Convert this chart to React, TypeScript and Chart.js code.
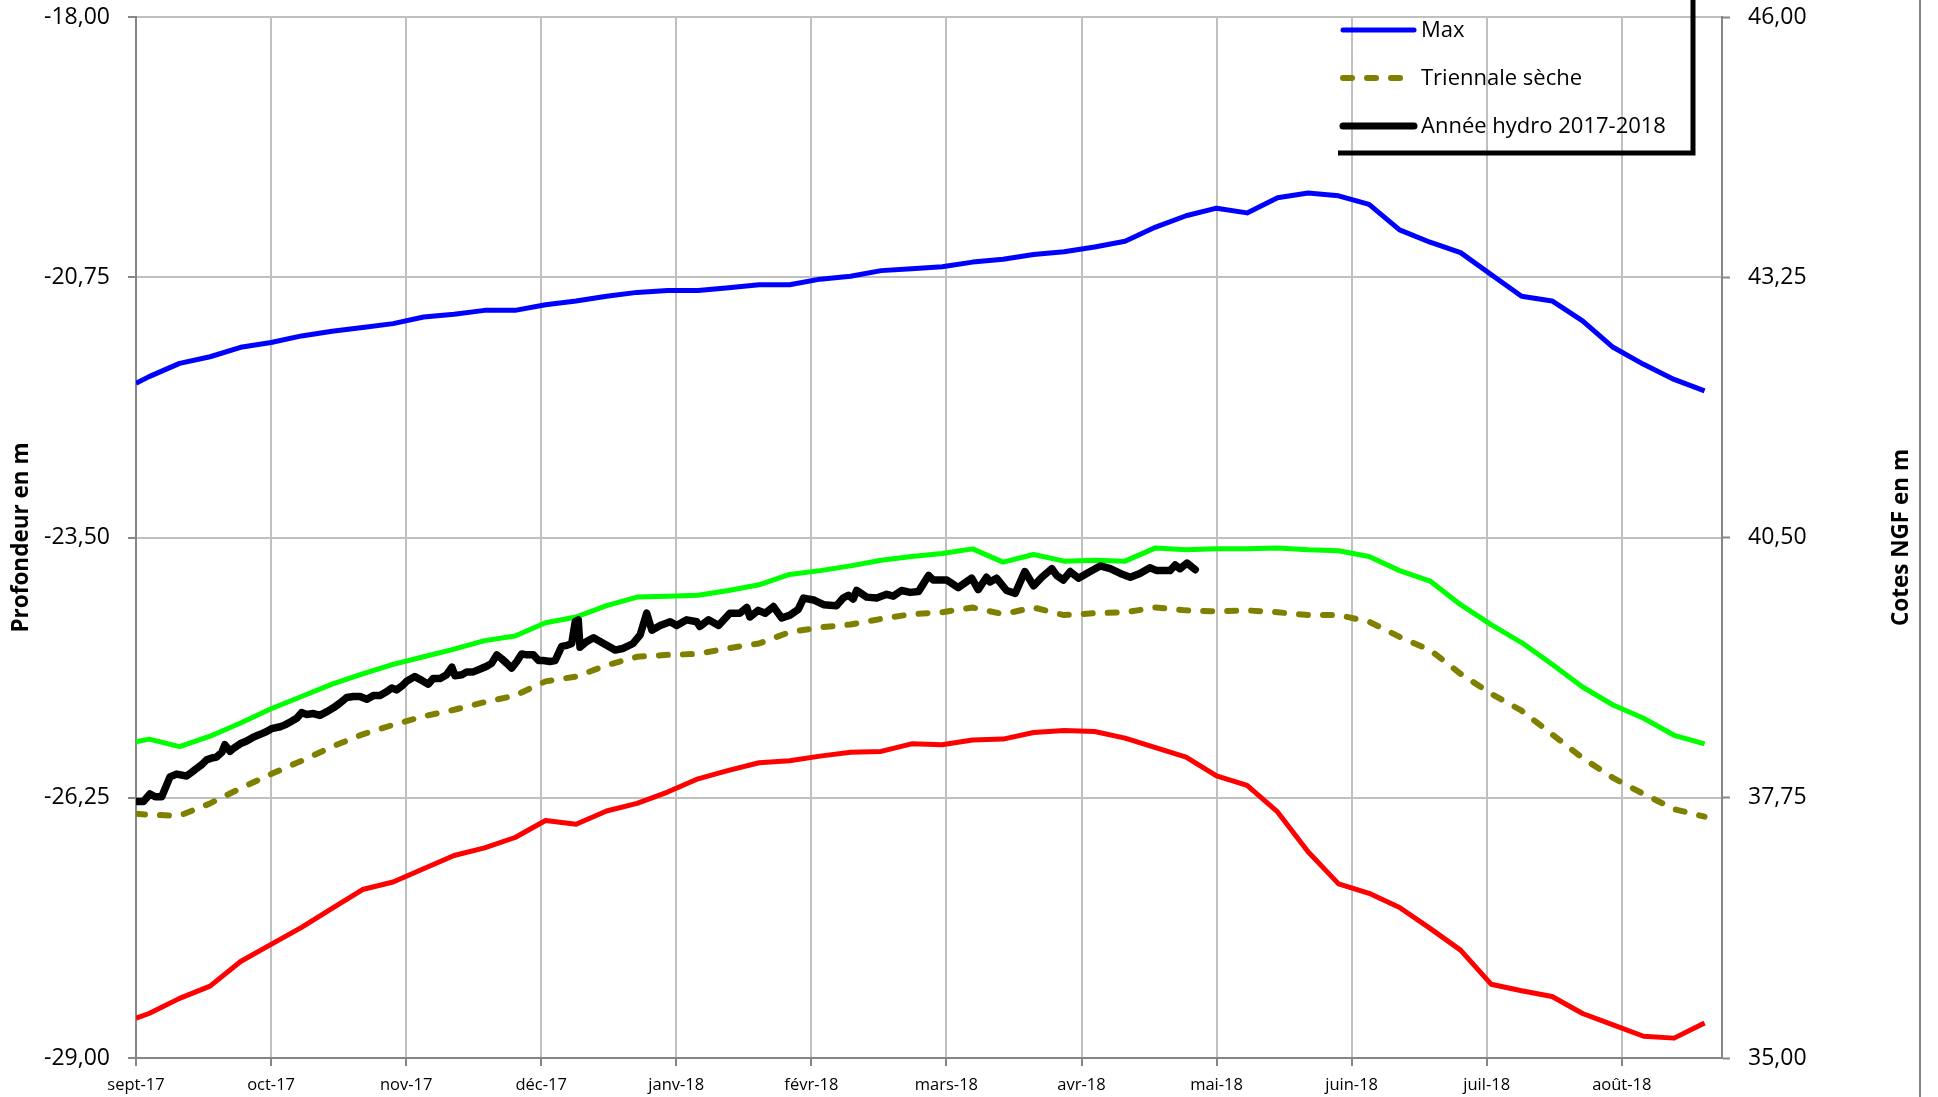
import React, { useEffect, useRef } from 'react';
import { Chart, registerables } from 'chart.js';

Chart.register(...registerables);

// ---- Axis labels ----
const MONTH_LABELS = ['sept-17', 'oct-17', 'nov-17', 'déc-17', 'janv-18', 'févr-18', 'mars-18', 'avr-18', 'mai-18', 'juin-18', 'juil-18', 'août-18'];
const TICK_INTERVAL_DAYS = 31; // one label every 31 daily categories
const LAST_DAY = 364;
const LEFT_TITLE = 'Profondeur en m';
const RIGHT_TITLE = 'Cotes NGF en m';
const NGF_OFFSET = 64; // cote NGF = profondeur + 64

// ---- Weekly reference series (day index from 1 Sept 2017) ----
const WEEK_DAYS = [0, 3, 10, 17, 24, 31, 38, 45, 52, 59, 66, 73, 80, 87, 94, 101, 108, 115, 122, 129, 136, 143, 150, 157, 164, 171, 178, 185, 192, 199, 206, 213, 220, 227, 234, 241, 248, 255, 262, 269, 276, 283, 290, 297, 304, 311, 318, 325, 332, 339, 346, 353, 360];

const MAX_VALUES = [-21.87, -21.80, -21.66, -21.59, -21.49, -21.44, -21.37, -21.32, -21.28, -21.24, -21.17, -21.14, -21.10, -21.10, -21.04, -21.00, -20.95, -20.91, -20.89, -20.89, -20.86, -20.83, -20.83, -20.77, -20.74, -20.68, -20.66, -20.64, -20.59, -20.56, -20.51, -20.48, -20.43, -20.37, -20.22, -20.10, -20.02, -20.07, -19.91, -19.86, -19.89, -19.98, -20.25, -20.38, -20.49, -20.72, -20.95, -21.00, -21.21, -21.49, -21.67, -21.83, -21.95];

const GREEN_VALUES = [-25.66, -25.63, -25.71, -25.60, -25.46, -25.31, -25.18, -25.05, -24.94, -24.84, -24.76, -24.68, -24.59, -24.54, -24.40, -24.34, -24.22, -24.13, -24.12, -24.11, -24.06, -24.00, -23.89, -23.85, -23.80, -23.74, -23.70, -23.67, -23.62, -23.76, -23.68, -23.75, -23.74, -23.75, -23.61, -23.63, -23.62, -23.62, -23.61, -23.63, -23.64, -23.70, -23.85, -23.96, -24.21, -24.42, -24.61, -24.84, -25.08, -25.27, -25.41, -25.59, -25.68];

const TRIENNALE_VALUES = [-26.42, -26.43, -26.44, -26.31, -26.15, -26.00, -25.86, -25.71, -25.58, -25.48, -25.39, -25.32, -25.24, -25.17, -25.02, -24.97, -24.85, -24.76, -24.74, -24.73, -24.67, -24.62, -24.50, -24.45, -24.42, -24.36, -24.31, -24.29, -24.24, -24.31, -24.24, -24.32, -24.30, -24.29, -24.24, -24.27, -24.28, -24.27, -24.29, -24.32, -24.32, -24.39, -24.55, -24.69, -24.94, -25.15, -25.33, -25.58, -25.83, -26.04, -26.21, -26.37, -26.45];

const MIN_VALUES = [-28.58, -28.53, -28.37, -28.24, -27.98, -27.80, -27.62, -27.42, -27.22, -27.14, -27.00, -26.86, -26.78, -26.67, -26.49, -26.53, -26.39, -26.31, -26.19, -26.05, -25.96, -25.88, -25.86, -25.81, -25.77, -25.76, -25.68, -25.69, -25.64, -25.63, -25.56, -25.54, -25.55, -25.62, -25.72, -25.82, -26.02, -26.12, -26.40, -26.82, -27.16, -27.26, -27.41, -27.63, -27.86, -28.22, -28.29, -28.35, -28.53, -28.65, -28.77, -28.79, -28.63];

// ---- Année hydro 2017-2018 (daily readings) ----
const HYDRO_DAYS = [0, 1.7, 3.2, 4.4, 5.9, 7.8, 9.3, 11.6, 12.8, 13.9, 15.1, 16.2, 17.4, 18.5, 19.7, 20.4, 21.6, 22.3, 23.9, 25.4, 26.9, 28.5, 30.0, 31.1, 33.1, 34.2, 35.4, 36.9, 38.0, 39.2, 40.7, 42.2, 43.8, 45.3, 46.8, 48.4, 49.9, 51.4, 53.0, 54.5, 56.0, 57.5, 58.7, 59.8, 61.0, 62.1, 64.0, 65.6, 67.1, 68.2, 69.8, 71.3, 72.5, 73.2, 74.8, 75.9, 77.4, 79.0, 80.5, 81.6, 82.8, 83.9, 85.1, 86.2, 87.4, 88.5, 89.7, 91.2, 92.4, 93.5, 95.0, 96.2, 97.7, 98.9, 100.0, 100.8, 101.5, 101.9, 103.4, 105.0, 106.5, 110.0, 111.9, 114.1, 115.7, 117.2, 118.4, 120.3, 122.6, 124.1, 126.4, 128.7, 129.4, 131.4, 133.7, 136.3, 138.6, 140.2, 140.9, 142.8, 144.4, 146.3, 148.2, 150.1, 152.0, 153.2, 155.5, 157.8, 160.8, 162.3, 163.5, 164.6, 165.4, 167.7, 170.0, 172.3, 173.8, 175.7, 177.7, 179.6, 180.7, 181.9, 183.0, 186.1, 188.7, 191.8, 193.3, 195.2, 196.0, 197.5, 199.8, 201.8, 204.0, 206.0, 207.9, 210.2, 211.3, 212.8, 214.4, 216.3, 218.2, 219.0, 221.3, 223.6, 225.9, 228.2, 230.4, 232.7, 234.3, 237.3, 238.5, 239.6, 241.2, 243.1];

const HYDRO_VALUES = [-26.29, -26.29, -26.21, -26.24, -26.24, -26.03, -26.00, -26.02, -25.98, -25.94, -25.90, -25.85, -25.83, -25.82, -25.77, -25.69, -25.76, -25.73, -25.68, -25.65, -25.61, -25.58, -25.55, -25.52, -25.50, -25.48, -25.45, -25.41, -25.35, -25.37, -25.36, -25.38, -25.34, -25.30, -25.25, -25.19, -25.18, -25.18, -25.21, -25.17, -25.17, -25.13, -25.09, -25.11, -25.07, -25.02, -24.97, -25.01, -25.05, -24.99, -24.99, -24.95, -24.87, -24.96, -24.95, -24.92, -24.92, -24.89, -24.86, -24.83, -24.74, -24.78, -24.83, -24.88, -24.81, -24.73, -24.74, -24.74, -24.80, -24.80, -24.81, -24.80, -24.65, -24.64, -24.62, -24.39, -24.37, -24.66, -24.60, -24.56, -24.60, -24.69, -24.67, -24.62, -24.53, -24.30, -24.48, -24.43, -24.39, -24.43, -24.37, -24.39, -24.44, -24.37, -24.43, -24.30, -24.30, -24.24, -24.34, -24.27, -24.30, -24.23, -24.35, -24.32, -24.26, -24.14, -24.16, -24.21, -24.22, -24.14, -24.11, -24.15, -24.06, -24.13, -24.14, -24.10, -24.12, -24.06, -24.08, -24.07, -23.99, -23.90, -23.95, -23.95, -24.03, -23.93, -24.05, -23.92, -23.97, -23.93, -24.06, -24.09, -23.86, -24.01, -23.92, -23.83, -23.90, -23.95, -23.86, -23.93, -23.88, -23.86, -23.80, -23.83, -23.88, -23.92, -23.88, -23.82, -23.85, -23.85, -23.79, -23.83, -23.77, -23.84];

const Y_MIN = -29;
const Y_MAX = -18;
const Y_STEP = 2.75;

const LEGEND_ITEMS = [
  { label: 'Max', color: '#0000FF', width: 5, dash: [] as number[] },
  { label: 'Triennale sèche', color: '#808000', width: 6, dash: [9, 15] },
  { label: 'Année hydro 2017-2018', color: '#000000', width: 7, dash: [] as number[] },
];

const FONT = '"Open Sans", "DejaVu Sans", sans-serif';
const fmt = (v: number) => v.toFixed(2).replace('.', ',');

const pts = (xs: number[], ys: number[]) => xs.map((x, i) => ({ x, y: ys[i] }));

const decorPlugin = {
  id: 'decor',
  afterDraw(chart: any) {
    const ctx = chart.ctx as CanvasRenderingContext2D;
    const W = chart.width;
    const H = chart.height;
    ctx.save();
    // outer right border
    ctx.strokeStyle = '#868686';
    ctx.lineWidth = 2;
    ctx.beginPath();
    ctx.moveTo(W - 18, 0);
    ctx.lineTo(W - 18, H);
    ctx.stroke();

    // axis titles
    ctx.fillStyle = '#000';
    ctx.font = `bold 22.5px ${FONT}`;
    ctx.textAlign = 'center';
    ctx.textBaseline = 'middle';
    const midY = (chart.chartArea.top + chart.chartArea.bottom) / 2;
    ctx.save();
    ctx.translate(22, midY);
    ctx.rotate(-Math.PI / 2);
    ctx.fillText(LEFT_TITLE, 0, 0);
    ctx.restore();
    ctx.save();
    ctx.translate(1902, midY);
    ctx.rotate(-Math.PI / 2);
    ctx.fillText(RIGHT_TITLE, 0, 0);
    ctx.restore();

    // legend
    const lx0 = 1343;
    const lx1 = 1414;
    const rows = [30, 78, 126];
    ctx.font = `22px ${FONT}`;
    ctx.textAlign = 'left';
    LEGEND_ITEMS.forEach((it, i) => {
      const y = rows[i];
      ctx.save();
      ctx.strokeStyle = it.color;
      ctx.lineWidth = it.width;
      ctx.lineCap = 'round';
      ctx.setLineDash(it.dash);
      ctx.beginPath();
      ctx.moveTo(lx0, y);
      ctx.lineTo(lx1, y);
      ctx.stroke();
      ctx.restore();
      ctx.fillStyle = '#000';
      ctx.fillText(it.label, 1421, y + 1);
    });
    // legend frame (shadowed right / bottom edges)
    ctx.strokeStyle = '#000';
    ctx.lineWidth = 5;
    ctx.beginPath();
    ctx.moveTo(1338, 153);
    ctx.lineTo(1693, 153);
    ctx.moveTo(1693, 0);
    ctx.lineTo(1693, 155.5);
    ctx.stroke();
    ctx.restore();
  },
};

const fitY = (width: number) => (scale: any) => {
  scale.width = width;
  scale.paddingTop = 0;
  scale.paddingBottom = 0;
};

export default function App() {
  const ref = useRef<HTMLCanvasElement | null>(null);

  useEffect(() => {
    if (!ref.current) return;
    const chart = new Chart(ref.current, {
      type: 'line',
      data: {
        datasets: [
          {
            label: 'Année hydro 2017-2018',
            data: pts(HYDRO_DAYS, HYDRO_VALUES),
            borderColor: '#000000',
            borderWidth: 7.5,
            pointRadius: 0,
            borderJoinStyle: 'round',
            borderCapStyle: 'round',
            tension: 0,
            order: 0,
          },
          {
            label: 'Triennale sèche',
            data: pts(WEEK_DAYS, TRIENNALE_VALUES),
            borderColor: '#808000',
            borderWidth: 6,
            borderDash: [9, 15],
            borderCapStyle: 'round',
            borderJoinStyle: 'round',
            pointRadius: 0,
            tension: 0,
            order: 1,
          },
          {
            label: 'Médiane',
            data: pts(WEEK_DAYS, GREEN_VALUES),
            borderColor: '#00FF00',
            borderWidth: 5,
            pointRadius: 0,
            borderJoinStyle: 'round',
            tension: 0,
            order: 2,
          },
          {
            label: 'Min',
            data: pts(WEEK_DAYS, MIN_VALUES),
            borderColor: '#FF0000',
            borderWidth: 5,
            pointRadius: 0,
            borderJoinStyle: 'round',
            tension: 0,
            order: 3,
          },
          {
            label: 'Max',
            data: pts(WEEK_DAYS, MAX_VALUES),
            borderColor: '#0000FF',
            borderWidth: 5,
            pointRadius: 0,
            borderJoinStyle: 'round',
            tension: 0,
            order: 4,
          },
        ],
      },
      options: {
        responsive: false,
        animation: false,
        devicePixelRatio: 1,
        layout: { padding: { top: 17, left: 0, right: 0, bottom: 0 } },
        plugins: { legend: { display: false }, tooltip: { enabled: false }, title: { display: false } },
        scales: {
          x: {
            type: 'linear',
            min: 0,
            max: LAST_DAY,
            afterBuildTicks: (scale: any) => {
              scale.ticks = MONTH_LABELS.map((_, i) => ({ value: i * TICK_INTERVAL_DAYS }));
            },
            afterFit: (scale: any) => {
              scale.height = 39;
            },
            ticks: {
              autoSkip: false,
              maxRotation: 0,
              padding: 9,
              color: '#000',
              font: { family: FONT, size: 16.5 },
              callback: (v: any) => MONTH_LABELS[Math.round(Number(v) / TICK_INTERVAL_DAYS)] ?? '',
            },
            grid: { color: '#C0C0C0', lineWidth: 2, tickLength: 8, tickColor: '#868686', tickWidth: 2 },
            border: { color: '#868686', width: 2 },
          },
          y: {
            type: 'linear',
            position: 'left',
            min: Y_MIN,
            max: Y_MAX,
            afterFit: fitY(136),
            ticks: {
              stepSize: Y_STEP,
              padding: 18,
              color: '#000',
              font: { family: FONT, size: 23 },
              callback: (v: any) => fmt(Number(v)),
            },
            grid: { color: '#C0C0C0', lineWidth: 2, tickLength: 8, tickColor: '#868686', tickWidth: 2 },
            border: { color: '#868686', width: 2 },
          },
          y2: {
            type: 'linear',
            position: 'right',
            min: Y_MIN + NGF_OFFSET,
            max: Y_MAX + NGF_OFFSET,
            afterFit: fitY(216),
            ticks: {
              stepSize: Y_STEP,
              padding: 18,
              color: '#000',
              font: { family: FONT, size: 23 },
              callback: (v: any) => fmt(Number(v)),
            },
            grid: { drawOnChartArea: false, tickLength: 8, tickColor: '#868686', tickWidth: 2 },
            border: { color: '#868686', width: 2 },
          },
        },
      },
      plugins: [decorPlugin],
    } as any);
    return () => chart.destroy();
  }, []);

  return (
    <div style={{ position: 'fixed', left: 0, top: 0, width: 1938, height: 1097, background: '#fff' }}>
      <canvas ref={ref} width={1938} height={1097} style={{ display: 'block', width: 1938, height: 1097 }} />
    </div>
  );
}
